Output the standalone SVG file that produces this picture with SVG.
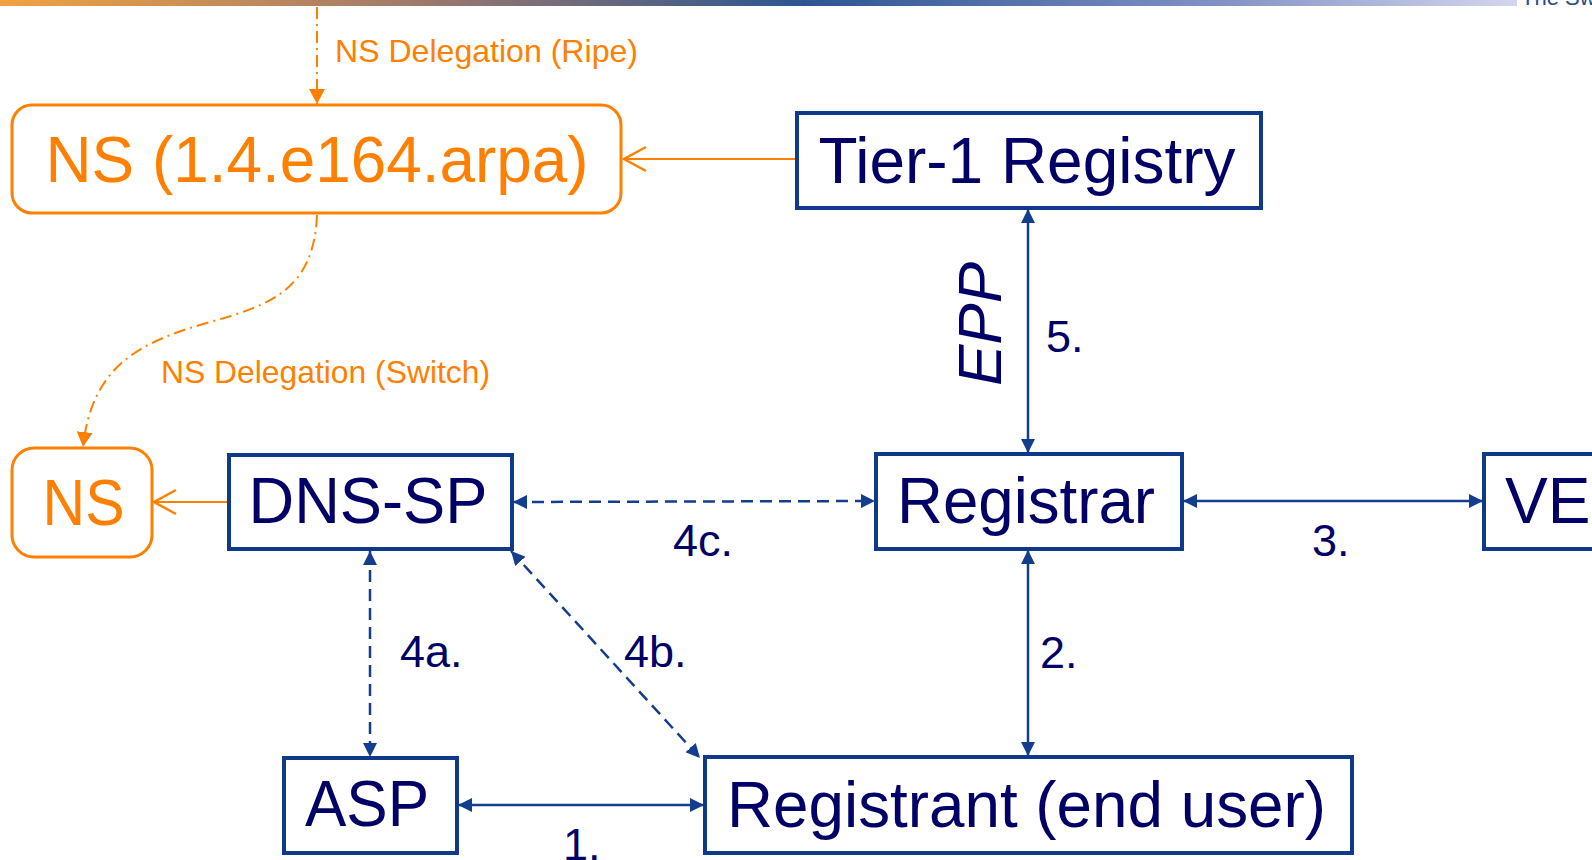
<svg xmlns="http://www.w3.org/2000/svg" width="1592" height="860" viewBox="0 0 1592 860">
<style>
.t{font-family:"Liberation Sans",Arial,sans-serif;}
.nt{font-size:64px;fill:#000066;text-anchor:middle;}
.ot{font-size:64px;fill:#ff8000;text-anchor:middle;}
.ol{font-size:32px;fill:#ff8000;}
.lb{font-size:45px;fill:#000066;}
.nb{fill:#fff;stroke:#0f3a8a;stroke-width:4;}
.ob{fill:#fff;stroke:#ff8000;stroke-width:3;}
.nc{fill:none;stroke:#133d8d;stroke-width:2.5;}
.dc{fill:none;stroke:#133d8d;stroke-width:2.5;stroke-dasharray:12 7;}
.oc{fill:none;stroke:#ff8000;stroke-width:2;}
.od{fill:none;stroke:#ff8000;stroke-width:2;stroke-dasharray:12 5 2 5;}
</style>
<defs>
<linearGradient id="bar" x1="0" y1="0" x2="1517" y2="0" gradientUnits="userSpaceOnUse">
<stop offset="0" stop-color="#f0a243"/>
<stop offset="0.27" stop-color="#a07a6a"/>
<stop offset="0.53" stop-color="#2b5592"/>
<stop offset="0.8" stop-color="#8090c4"/>
<stop offset="1" stop-color="#d4d6ee"/>
</linearGradient>
<marker id="na" markerUnits="userSpaceOnUse" markerWidth="16" markerHeight="14" refX="14" refY="7" orient="auto-start-reverse" viewBox="0 0 16 14">
<path d="M0,0 L14,7 L0,14 z" fill="#133d8d"/>
</marker>
<marker id="oa" markerUnits="userSpaceOnUse" markerWidth="16" markerHeight="16" refX="15" refY="8" orient="auto" viewBox="0 0 16 16">
<path d="M0,0 L15,8 L0,16 z" fill="#ff8000"/>
</marker>
<marker id="ov" markerUnits="userSpaceOnUse" markerWidth="26" markerHeight="30" refX="23" refY="14" orient="auto" viewBox="0 0 26 30">
<path d="M1,2 L23,14 L1,26" fill="none" stroke="#ff8000" stroke-width="2.5"/>
</marker>
</defs>
<rect x="0" y="0" width="1517" height="6" fill="url(#bar)"/>
<text class="t" x="1521" y="5" font-size="22" fill="#2a4a8a">The Sw</text>

<g id="connectors">
<path class="od" d="M317,7 L317,104" marker-end="url(#oa)"/>
<path class="od" d="M317,215 C314,290 270,305 210,322 C140,342 92,365 83,447" marker-end="url(#oa)"/>
<path class="oc" d="M796,159 L624,159" marker-end="url(#ov)"/>
<path class="oc" d="M228,502 L154,502" marker-end="url(#ov)"/>
<path class="nc" d="M1028,209 L1028,453" marker-start="url(#na)" marker-end="url(#na)"/>
<path class="nc" d="M1183,501 L1483,501" marker-start="url(#na)" marker-end="url(#na)"/>
<path class="dc" d="M513,502 L875,501" marker-start="url(#na)" marker-end="url(#na)"/>
<path class="dc" d="M370,551 L370,757" marker-start="url(#na)" marker-end="url(#na)"/>
<path class="dc" d="M511,551 L700,758" marker-start="url(#na)" marker-end="url(#na)"/>
<path class="nc" d="M1028,550 L1028,756" marker-start="url(#na)" marker-end="url(#na)"/>
<path class="nc" d="M458,805 L704,805" marker-start="url(#na)" marker-end="url(#na)"/>
<text class="t ol" x="335" y="62" textLength="303" lengthAdjust="spacingAndGlyphs">NS Delegation (Ripe)</text>
<text class="t ol" x="161" y="383" textLength="329" lengthAdjust="spacingAndGlyphs">NS Delegation (Switch)</text>
<text class="t" transform="translate(1001,324) rotate(-90)" font-size="62" font-style="italic" fill="#000066" text-anchor="middle">EPP</text>
<text class="t lb" x="1046" y="352">5.</text>
<text class="t lb" x="1312" y="556">3.</text>
<text class="t lb" x="673" y="556">4c.</text>
<text class="t lb" x="400" y="667">4a.</text>
<text class="t lb" x="624" y="667">4b.</text>
<text class="t lb" x="1040" y="668">2.</text>
<text class="t lb" x="563" y="860">1.</text>
</g>

<g id="ns-arpa">
<rect class="ob" x="12" y="105" width="609" height="108" rx="20"/>
<text class="t ot" x="317" y="182" textLength="543" lengthAdjust="spacingAndGlyphs">NS (1.4.e164.arpa)</text>
</g>
<g id="tier1">
<rect class="nb" x="797" y="113" width="464" height="95"/>
<text class="t nt" x="1027" y="183" textLength="417" lengthAdjust="spacingAndGlyphs">Tier-1 Registry</text>
</g>
<g id="registrar">
<rect class="nb" x="876" y="454" width="306" height="95"/>
<text class="t nt" x="1026" y="523" textLength="258" lengthAdjust="spacingAndGlyphs">Registrar</text>
</g>
<g id="ve">
<rect class="nb" x="1484" y="454" width="250" height="95"/>
<text class="t nt" x="1505" y="523" style="text-anchor:start">VE</text>
</g>
<g id="dns-sp">
<rect class="nb" x="229" y="455" width="283" height="94"/>
<text class="t nt" x="368" y="523" textLength="239" lengthAdjust="spacingAndGlyphs">DNS-SP</text>
</g>
<g id="ns">
<rect class="ob" x="12" y="448" width="140" height="109" rx="22"/>
<text class="t ot" x="83.5" y="525" textLength="82" lengthAdjust="spacingAndGlyphs">NS</text>
</g>
<g id="asp">
<rect class="nb" x="284" y="758" width="173" height="95"/>
<text class="t nt" x="367" y="826" textLength="124" lengthAdjust="spacingAndGlyphs">ASP</text>
</g>
<g id="registrant">
<rect class="nb" x="705" y="757" width="647" height="96"/>
<text class="t nt" x="1026.5" y="827" textLength="599" lengthAdjust="spacingAndGlyphs">Registrant (end user)</text>
</g>
</svg>
